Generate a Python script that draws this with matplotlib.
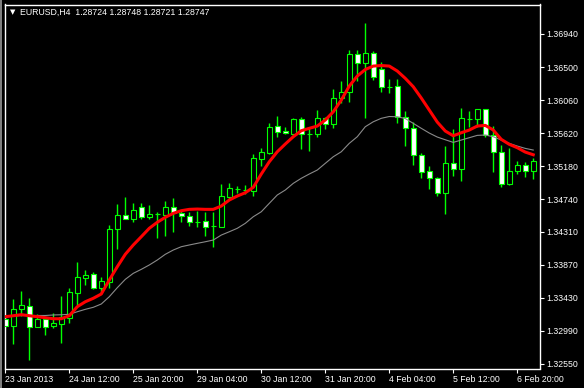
import numpy as np
import matplotlib
matplotlib.use("Agg")
import matplotlib.pyplot as plt
from matplotlib.lines import Line2D

# EURUSD H4 bars (open, high, low, close)
opens = [1.33149, 1.33060, 1.33285, 1.33321, 1.33046, 1.33149, 1.33055, 1.33086,
         1.33166, 1.33498, 1.33698, 1.33743, 1.33557, 1.33644, 1.34341, 1.34528,
         1.34482, 1.34634, 1.34509, 1.34545, 1.34536, 1.34634, 1.34554, 1.34514,
         1.34442, 1.34447, 1.34381, 1.34376, 1.34775, 1.34877, 1.34868, 1.34855,
         1.35280, 1.35360, 1.35715, 1.35649, 1.35613, 1.35808, 1.35605, 1.35605,
         1.35818, 1.35738, 1.36084, 1.36164, 1.36669, 1.36550, 1.36683, 1.36470,
         1.36239, 1.36248, 1.35839, 1.35685, 1.35328, 1.35114, 1.35019, 1.34820,
         1.35219, 1.35148, 1.35813, 1.35805, 1.35937, 1.35591, 1.35365, 1.34948,
         1.35114, 1.35192, 1.35114]
highs = [1.33193, 1.33414, 1.33521, 1.33428, 1.33215, 1.33179, 1.33224, 1.33454,
         1.33561, 1.33906, 1.33800, 1.33769, 1.33711, 1.34399, 1.34678, 1.34771,
         1.34687, 1.34687, 1.34660, 1.34567, 1.34714, 1.34758, 1.34581, 1.34567,
         1.34589, 1.34571, 1.34571, 1.34944, 1.34957, 1.34913, 1.34926, 1.35343,
         1.35419, 1.35759, 1.35848, 1.35706, 1.35826, 1.35831, 1.35706, 1.35928,
         1.35839, 1.36207, 1.36314, 1.36726, 1.36726, 1.37083, 1.36713, 1.36571,
         1.36336, 1.36336, 1.35914, 1.35772, 1.35352, 1.35183, 1.35033, 1.35449,
         1.35671, 1.35959, 1.35914, 1.35945, 1.35945, 1.35715, 1.35462, 1.35419,
         1.35250, 1.35236, 1.35286]
lows = [1.33025, 1.32816, 1.33193, 1.32603, 1.33040, 1.32936, 1.33033, 1.32833,
        1.33099, 1.33335, 1.33601, 1.33550, 1.33481, 1.33557, 1.34083, 1.34478,
        1.34442, 1.34474, 1.34474, 1.34222, 1.34256, 1.34301, 1.34435, 1.34389,
        1.34376, 1.34256, 1.34110, 1.34370, 1.34740, 1.34820, 1.34811, 1.34788,
        1.35190, 1.35339, 1.35565, 1.35605, 1.35565, 1.35413, 1.35387, 1.35573,
        1.35676, 1.35693, 1.36018, 1.36039, 1.36309, 1.35826, 1.36327, 1.36167,
        1.36158, 1.35762, 1.35449, 1.35196, 1.35028, 1.34881, 1.34784, 1.34549,
        1.35051, 1.34988, 1.35698, 1.35698, 1.35573, 1.35108, 1.34908, 1.34937,
        1.35072, 1.35041, 1.35006]
closes = [1.33060, 1.33277, 1.33335, 1.33046, 1.33149, 1.33046, 1.33095, 1.33171,
          1.33503, 1.33703, 1.33734, 1.33557, 1.33654, 1.34345, 1.34528, 1.34482,
          1.34594, 1.34509, 1.34541, 1.34543, 1.34634, 1.34554, 1.34514, 1.34442,
          1.34440, 1.34376, 1.34383, 1.34780, 1.34887, 1.34880, 1.34870, 1.35286,
          1.35365, 1.35706, 1.35640, 1.35618, 1.35808, 1.35605, 1.35603, 1.35818,
          1.35738, 1.36084, 1.36164, 1.36669, 1.36550, 1.36683, 1.36364, 1.36230,
          1.36236, 1.35839, 1.35685, 1.35325, 1.35100, 1.35019, 1.34820, 1.35219,
          1.35148, 1.35818, 1.35815, 1.35937, 1.35591, 1.35365, 1.34948, 1.35114,
          1.35192, 1.35114, 1.35246]

# fast MA (red) and slow MA (gray)
ma_fast = [1.33179, 1.33192, 1.33206, 1.33192, 1.33179, 1.33166, 1.33152, 1.33152,
           1.33192, 1.33312, 1.33378, 1.33424, 1.33481, 1.33667, 1.33844, 1.34009,
           1.34133, 1.34243, 1.34355, 1.34435, 1.34501, 1.34554, 1.34589, 1.34607,
           1.34611, 1.34607, 1.34607, 1.34651, 1.34731, 1.34784, 1.34828, 1.34900,
           1.35077, 1.35240, 1.35373, 1.35476, 1.35573, 1.35653, 1.35685, 1.35715,
           1.35795, 1.35905, 1.36061, 1.36247, 1.36380, 1.36467, 1.36513, 1.36520,
           1.36513, 1.36447, 1.36350, 1.36238, 1.36088, 1.35928, 1.35768, 1.35649,
           1.35586, 1.35626, 1.35662, 1.35715, 1.35724, 1.35662, 1.35538, 1.35472,
           1.35427, 1.35369, 1.35333]
ma_slow = [1.33188, 1.33188, 1.33195, 1.33195, 1.33195, 1.33195, 1.33202, 1.33205,
           1.33211, 1.33245, 1.33277, 1.33304, 1.33348, 1.33445, 1.33565, 1.33676,
           1.33756, 1.33809, 1.33867, 1.33933, 1.34009, 1.34066, 1.34110, 1.34133,
           1.34155, 1.34176, 1.34199, 1.34265, 1.34309, 1.34355, 1.34421, 1.34509,
           1.34575, 1.34687, 1.34798, 1.34864, 1.34953, 1.35020, 1.35077, 1.35130,
           1.35219, 1.35307, 1.35373, 1.35485, 1.35573, 1.35706, 1.35772, 1.35818,
           1.35842, 1.35839, 1.35815, 1.35751, 1.35685, 1.35622, 1.35569, 1.35533,
           1.35498, 1.35529, 1.35560, 1.35591, 1.35596, 1.35573, 1.35529, 1.35485,
           1.35449, 1.35418, 1.35396]

time_labels = ["23 Jan 2013", "24 Jan 12:00", "25 Jan 20:00", "29 Jan 04:00",
               "30 Jan 12:00", "31 Jan 20:00", "4 Feb 04:00", "5 Feb 12:00",
               "6 Feb 20:00"]
price_ticks = [1.36940, 1.36500, 1.36060, 1.35620, 1.35180, 1.34740,
               1.34310, 1.33870, 1.33430, 1.32990, 1.32550]
title = "EURUSD,H4  1.28724 1.28748 1.28721 1.28747"

W, H = 584, 388
fig = plt.figure(figsize=(W / 100, H / 100), dpi=100, facecolor="black")
ax = fig.add_axes([4.5 / W, 1 - 368.5 / H, 535 / W, 364 / H], facecolor="black")

font = {"family": ["Liberation Sans", "DejaVu Sans"], "size": 6.3, "color": "white"}

x = np.arange(len(opens))
o = np.array(opens)
c = np.array(closes)

# wicks
ax.vlines(x, lows, highs, color="#00ff00", lw=1.0, zorder=2)
# bodies: bull = black, bear = white
fills = np.where(c >= o, "black", "white")
ax.bar(x, np.abs(c - o), bottom=np.minimum(o, c), width=0.6, color=fills,
       edgecolor="#00ff00", linewidth=0.8, zorder=3)

ax.plot(x, ma_slow, color="#8a8a8a", lw=0.8, zorder=4)
ax.plot(x, ma_fast, color="#ff0000", lw=2.2, zorder=5)

ax.set_xlim(-0.1, 66.78)
ax.set_ylim(1.32490, 1.37332)

for s in ax.spines.values():
    s.set_color("white")
    s.set_linewidth(1.0)

ax.yaxis.tick_right()
ax.set_yticks(price_ticks)
ax.set_yticklabels([f"{v:.5f}" for v in price_ticks], fontdict=font)
ax.set_xticks(np.arange(0, 65, 8))
ax.set_xticklabels(time_labels, fontdict=font, ha="left")
ax.tick_params(axis="both", colors="white", length=3, width=0.8, direction="out")
ax.tick_params(axis="x", pad=2)
ax.tick_params(axis="y", pad=2)

# window border on the left edge
fig.add_artist(Line2D([0.8 / W, 0.8 / W], [0, 1], color="#9a9a9a", lw=1.2,
                      transform=fig.transFigure))

fig.text(9.5 / W, 1 - 12.5 / H, "\u25bc", family="DejaVu Sans", size=5,
         color="white", va="center", ha="left")
fig.text(20 / W, 1 - 12.5 / H, title, va="center", ha="left", **font)

fig.savefig("out.png", dpi=100, facecolor="black")
